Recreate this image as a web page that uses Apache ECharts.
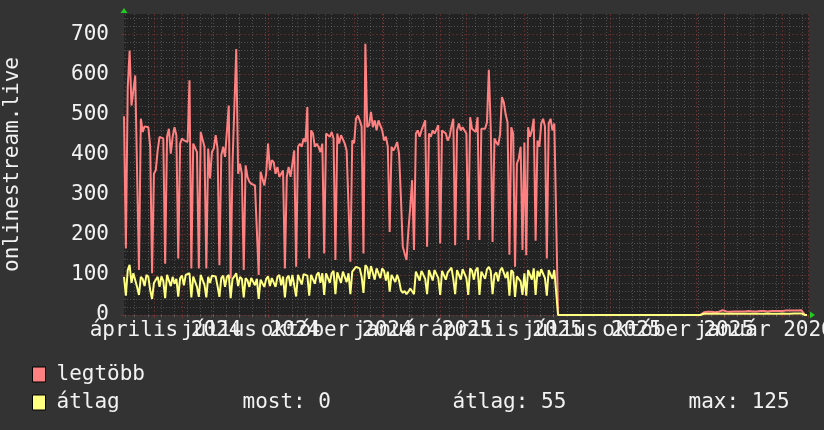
<!DOCTYPE html>
<html>
<head>
<meta charset="utf-8">
<script src="https://cdn.jsdelivr.net/npm/echarts@6/dist/echarts.min.js"></script>
<style>
html,body{margin:0;padding:0;background:#333333;}
#chart{width:824px;height:430px;}
</style>
</head>
<body>
<div id="chart"></div>
<script>
// ---------- data ----------
const yTitle = 'onlinestream.live';
const seriesNames = ['legtöbb', 'átlag'];
const statTexts = ['most: 0', 'átlag: 55', 'max: 125'];
const monthNames = ['január','február','március','április','május','június','július','augusztus','szeptember','október','november','december'];
const yTickLabels = [0, 100, 200, 300, 400, 500, 600, 700];
// quarterly x labels, split in two alternating sets so they never hide each other
const xLabelMonthsA = [[2024,3],[2024,9],[2025,3],[2025,9]];
const xLabelMonthsB = [[2024,6],[2025,0],[2025,6],[2026,0]];

const AXIS_START = Date.UTC(2024, 1, 28, 14, 38);   // left edge of the plot
const AXIS_END   = Date.UTC(2026, 2, 1, 20, 38);    // right edge of the plot
const SAMPLE_STEP_DAYS = 2;                          // one value every 2 days from AXIS_START

// "legtöbb" (max) – active period
const maxActive = [
495,166,568,659,522,522,597,593,112,489,
456,470,473,468,419,104,352,361,410,444,
444,440,128,444,464,402,444,468,448,141,
427,440,435,431,431,585,116,427,423,406,
116,456,452,419,116,415,340,406,415,448,
415,124,398,419,394,394,522,91,377,377,
663,352,377,352,112,373,344,332,327,327,
323,323,100,357,361,323,352,427,361,386,
381,352,369,344,352,360,116,344,369,344,
377,410,120,419,427,419,440,431,518,141,
460,452,419,427,419,406,427,153,452,456,
444,456,440,137,452,427,448,444,427,410,
410,133,435,428,489,497,485,470,153,676,
468,473,506,468,485,460,485,489,460,435,
444,420,207,419,410,419,431,402,294,170,
153,137,211,269,336,162,452,460,444,460,
464,485,170,452,444,460,452,456,473,178,
460,460,452,435,444,470,489,174,460,477,
460,468,460,452,187,493,464,468,456,493,
187,464,464,464,480,611,468,182,440,430,
423,450,543,530,500,480,150,468,452,120,
377,390,419,162,430,149,468,444,460,489,
185,435,419,477,489,470,141,477,489,460,
477,477
];
// "átlag" (average) – active period
const avgActive = [
95,48,112,125,80,104,100,70,50,95,
90,72,100,95,62,40,80,88,95,70,
96,85,42,100,104,72,95,78,90,46,
92,98,74,100,96,104,44,96,92,70,
45,100,98,75,44,95,80,98,102,96,
72,45,92,98,70,95,100,42,90,96,
104,72,95,90,44,92,86,70,92,88,
74,90,40,88,92,70,90,96,72,92,
96,70,95,100,74,96,44,92,98,72,
100,104,46,100,104,76,102,106,98,48,
100,104,78,100,106,80,104,50,104,108,
80,104,110,52,106,104,80,108,106,82,
104,52,108,112,120,122,116,96,55,124,
118,90,122,118,88,116,120,92,116,110,
86,108,58,100,104,82,100,86,62,55,
60,52,58,66,70,52,108,112,86,110,
114,90,52,112,108,86,112,110,92,50,
110,114,88,106,112,118,90,52,112,116,
88,114,110,92,50,116,110,88,112,118,
50,108,112,90,114,120,110,52,100,106,
84,110,118,116,92,108,48,112,106,45,
96,100,84,50,104,48,112,108,88,116,
50,110,96,114,118,92,48,112,116,90,
112,110
];
// outage: both series at zero
const maxOutage = [
0,0,0,0,0,0,0,0,0,0,0,0,0,0,0,0,0,0,0,0,0,0,0,0,0,0,0,0,0,0,0,0,0,0,0,0,0,0,0,0,
0,0,0,0,0,0,0,0,0,0,0,0,0,0,0,0,0,0,0,0,0,0,0,0,0,0,0,0,0,0,0,0,0,0,0,0,0,0
];
const avgOutage = [
0,0,0,0,0,0,0,0,0,0,0,0,0,0,0,0,0,0,0,0,0,0,0,0,0,0,0,0,0,0,0,0,0,0,0,0,0,0,0,0,
0,0,0,0,0,0,0,0,0,0,0,0,0,0,0,0,0,0,0,0,0,0,0,0,0,0,0,0,0,0,0,0,0,0,0,0,0,0
];
// restart: small values, then zero at the very end
const maxRestart = [
7,7,8,7,8,7,7,8,8,8,
12,10,9,9,8,9,9,8,9,9,
9,8,9,9,10,9,9,10,9,9,
10,9,10,10,9,10,10,11,10,10,
10,11,10,11,11,10,11,12,11,12,
11,13,12,12,
0,0
];
const avgRestart = [
3,3,3,2,3,3,3,3,3,3,
4,3,3,3,3,3,3,3,3,3,
3,3,3,3,3,3,3,3,3,3,
3,3,3,3,4,3,3,3,3,3,
3,3,4,3,3,4,3,3,4,4,
4,4,4,4,
0,0
];

// ---------- styling ----------
const DAY = 86400000;
const FONT = 'DejaVu Sans Mono';
const TEXT_COLOR = '#f2f2f2';
const RED = '#ff8080';
const YELLOW = '#ffff80';
const MAJOR_GRID = 'rgba(255,70,70,0.26)';
const MINOR_GRID = 'rgba(160,160,160,0.35)';
const ARROW = '#22cc22';
const G = {left: 124, top: 14, width: 685, height: 301};

const maxValues = maxActive.concat(maxOutage, maxRestart);
const avgValues = avgActive.concat(avgOutage, avgRestart);
const toSeries = vals => vals.map((v, i) => [AXIS_START + i * SAMPLE_STEP_DAYS * DAY, v]);

// month starts (major grid), fortnightly minor grid, label anchors
const monthTicks = [];
for (let y = 2024, m = 2; ; m++) {
  if (m > 11) { m = 0; y++; }
  const t = Date.UTC(y, m, 1);
  if (t > AXIS_END) break;
  monthTicks.push(t);
}
const minorTicks = [];
for (let t = Date.UTC(2024, 2, 11); t <= AXIS_END; t += 14 * DAY) minorTicks.push(t);
const labelAnchor = ([y, m]) => Date.UTC(y, m, 13);
const monthLabel = v => { const d = new Date(v); return monthNames[d.getUTCMonth()] + ' ' + d.getUTCFullYear(); };
const labelStyle = {
  show: true, color: TEXT_COLOR, fontFamily: FONT, fontSize: 21, margin: 5,
  showMinLabel: true, showMaxLabel: true, hideOverlap: false, formatter: monthLabel
};

const chart = echarts.init(document.getElementById('chart'), null, {renderer: 'canvas'});
const option = {
  backgroundColor: '#333333',
  animation: false,
  textStyle: {fontFamily: FONT},
  grid: {left: G.left, top: G.top, width: G.width, height: G.height, show: true, backgroundColor: '#222222',
         borderWidth: 0, containLabel: false, outerBoundsMode: 'none'},
  legend: {
    orient: 'vertical', left: 32, top: 364, padding: 0, itemWidth: 13, itemHeight: 15, itemGap: 7,
    icon: 'rect', selectedMode: false,
    itemStyle: {borderColor: '#000', borderWidth: 1},
    data: seriesNames,
    formatter: name => name === seriesNames[1]
      ? `{n|${name}}{a|${statTexts[0]}}{b|${statTexts[1]}}{c|${statTexts[2]}}`
      : `{n|${name}}`,
    textStyle: {
      color: TEXT_COLOR, fontFamily: FONT, fontSize: 21,
      rich: {
        n: {width: 186, padding: [0, 0, 0, 6], color: TEXT_COLOR, fontFamily: FONT, fontSize: 21},
        a: {width: 210, color: TEXT_COLOR, fontFamily: FONT, fontSize: 21},
        b: {width: 236, color: TEXT_COLOR, fontFamily: FONT, fontSize: 21},
        c: {color: TEXT_COLOR, fontFamily: FONT, fontSize: 21}
      }
    }
  },
  xAxis: [
    {
      type: 'value', min: AXIS_START, max: AXIS_END, position: 'bottom',
      axisLine: {show: false},
      axisTick: {show: true, length: 3, customValues: monthTicks, lineStyle: {color: MAJOR_GRID}},
      splitLine: {show: true, lineStyle: {color: MAJOR_GRID, type: [2, 2], width: 1}},
      axisLabel: Object.assign({customValues: xLabelMonthsA.map(labelAnchor)}, labelStyle)
    },
    {
      type: 'value', min: AXIS_START, max: AXIS_END, position: 'bottom',
      axisLine: {show: false},
      axisTick: {show: true, length: 2, customValues: minorTicks, lineStyle: {color: MINOR_GRID}},
      splitLine: {show: true, lineStyle: {color: MINOR_GRID, type: [1, 2], width: 1}},
      axisLabel: Object.assign({customValues: xLabelMonthsB.map(labelAnchor)}, labelStyle)
    }
  ],
  yAxis: {
    type: 'value', min: 0, max: 750, interval: 100,
    name: yTitle, nameLocation: 'middle', nameGap: 101, nameRotate: 90,
    nameTextStyle: {color: TEXT_COLOR, fontFamily: FONT, fontSize: 21},
    axisLine: {show: false},
    axisTick: {show: true, length: 3, lineStyle: {color: MAJOR_GRID}},
    minorTick: {show: false, splitNumber: 5},
    axisLabel: {
      color: TEXT_COLOR, fontFamily: FONT, fontSize: 21, margin: 15, showMaxLabel: false,
      formatter: v => yTickLabels.indexOf(v) >= 0 ? String(v) : ''
    },
    splitLine: {show: true, showMaxLine: false, lineStyle: {color: MAJOR_GRID, type: [2, 2], width: 1}},
    minorSplitLine: {show: true, lineStyle: {color: MINOR_GRID, type: [1, 2], width: 1}}
  },
  series: [
    {
      name: seriesNames[0], type: 'line', xAxisIndex: 0, data: toSeries(maxValues),
      symbol: 'none', showSymbol: false, silent: true, z: 3,
      lineStyle: {color: RED, width: 2}, itemStyle: {color: RED}
    },
    {
      name: seriesNames[1], type: 'line', xAxisIndex: 0, data: toSeries(avgValues),
      symbol: 'none', showSymbol: false, silent: true, z: 4,
      lineStyle: {color: YELLOW, width: 2}, itemStyle: {color: YELLOW}
    }
  ],
  graphic: [
    {type: 'polygon', silent: true, z: 10, shape: {points: [[G.left - 3.5, G.top - 1], [G.left + 3.5, G.top - 1], [G.left, G.top - 6]]}, style: {fill: ARROW}},
    {type: 'polygon', silent: true, z: 10, shape: {points: [[G.left + G.width + 1, G.top + G.height - 3.5], [G.left + G.width + 1, G.top + G.height + 3.5], [G.left + G.width + 6, G.top + G.height]]}, style: {fill: ARROW}}
  ]
};
chart.setOption(option);
</script>
</body>
</html>
